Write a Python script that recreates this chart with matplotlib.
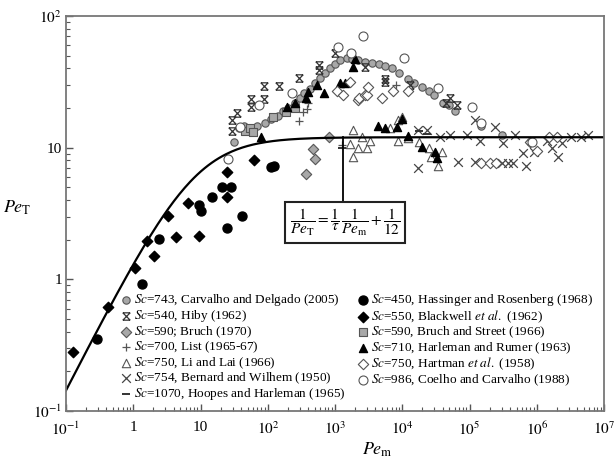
import numpy as np
import matplotlib
matplotlib.use("Agg")
import matplotlib.pyplot as plt
from matplotlib.path import Path
from matplotlib.ticker import FuncFormatter, LogLocator, NullFormatter

plt.rcParams['font.family'] = ['Liberation Serif', 'DejaVu Serif']
plt.rcParams['mathtext.fontset'] = 'stix'

# ---- data (Pe_m, Pe_T) ----
carvalho_x = [31, 38, 45, 55, 70, 90, 110, 140, 170, 200, 250, 300, 350, 420, 500, 600, 700, 850, 1000,
              1200, 1500, 1800, 2200, 2800, 3500, 4500, 5500, 7000, 9000, 12000, 15000, 20000, 25000,
              30000, 40000, 50000, 60000, 1.5e5, 3e5, 8e5]
carvalho_y = [11, 14, 14.5, 14, 14.5, 15.5, 16.5, 17.5, 19, 20, 22, 24, 26, 28, 31, 34, 37, 40, 43,
              46, 48, 47, 46, 45, 44, 43, 42, 40, 37, 33, 31, 29, 27, 25, 22, 21, 19, 14.5, 12.5, 11]

hiby_x = [29.7, 29.7, 35, 56, 56, 88, 88, 147, 290, 575, 575, 1000, 2800, 5500, 5500, 13000, 44000, 51000, 65000]
hiby_y = [16.1, 13.3, 18.4, 23.4, 20.4, 29.6, 23.4, 29.6, 33.6, 42.8, 38.7, 52.5, 41, 31.8, 33, 29.9, 22, 24, 21]

bruch_x = [370, 470, 500, 820]
bruch_y = [6.3, 9.8, 8.2, 12]

list_x = [290, 330, 380, 400, 1260, 8000]
list_y = [16, 18.5, 19.8, 22, 10.4, 30]

lilai_x = [1660, 1850, 1850, 2200, 2500, 3000, 3300, 6600, 8700, 8700, 10000, 12000, 18000, 25000, 27000, 34000, 39000]
lilai_y = [10.7, 13.7, 8.5, 9.9, 12.1, 10, 11.3, 14.2, 16.3, 11.3, 17, 11.8, 11, 9.9, 8.5, 7.2, 9.3]

bernard_x = [17000, 17000, 23000, 36000, 51000, 68000, 93000, 1.2e5, 1.2e5, 1.45e5, 2.4e5, 3e5, 3.2e5, 3.8e5,
             4.5e5, 4.8e5, 6.3e5, 6.9e5, 9e5, 1.4e6, 1.7e6, 2.1e6, 2.4e6, 3.2e6, 4.6e6, 5.7e6]
bernard_y = [7.0, 13.7, 13.6, 12, 12.5, 7.8, 12.5, 16.3, 7.8, 11.3, 14.4, 7.7, 10.8, 7.7,
             7.7, 12.5, 9.1, 7.2, 9.3, 11.3, 10, 8.5, 10.8, 12, 12.1, 12.5]

hoopes_x = [1250, 18000, 23000]
hoopes_y = [10, 13.4, 12.6]

hassinger_x = [0.29, 1.35, 2.42, 9.5, 10.2, 14.8, 21, 28, 24.5, 42, 110, 125]
hassinger_y = [0.35, 0.92, 2.03, 3.7, 3.3, 4.24, 5.05, 5.0, 2.45, 3.04, 7.1, 7.3]

blackwell_x = [0.127, 0.42, 1.06, 1.6, 2.04, 3.29, 4.33, 6.5, 9.5, 24.5, 24.5, 63]
blackwell_y = [0.28, 0.62, 1.22, 1.96, 1.51, 3.04, 2.1, 3.8, 2.15, 6.5, 4.2, 8.0]

bstreet_x = [46, 55, 60, 120, 190, 250]
bstreet_y = [13.3, 14, 13.2, 17, 18.7, 20]

harleman_x = [80, 195, 250, 370, 400, 540, 690, 1180, 1400, 1860, 2000, 4400, 5500, 8300, 10000, 12000, 20000, 31000, 33000]
harleman_y = [12, 20.5, 22, 24, 26.5, 30, 26, 31, 31, 41, 47, 14.5, 14.2, 14.4, 16.6, 12.3, 10.2, 9.3, 8.4]

hartman_x = [1070, 1320, 1660, 2200, 2300, 2800, 3000, 3100, 5000, 7300, 12000, 1.5e5, 2e5, 2.5e5, 8e5, 1e6, 1.5e6, 2e6]
hartman_y = [27, 25, 31.7, 23, 24, 25, 25.3, 29, 24, 27, 27, 7.6, 7.6, 7.7, 11, 9.5, 12, 12]

coelho_x = [26, 39, 73, 230, 1120, 1730, 2600, 10700, 34000, 1.1e5, 1.5e5, 8.5e5]
coelho_y = [8.2, 14.4, 21.2, 26, 58.6, 52.7, 70, 48, 28.6, 20.4, 15.5, 11]

tau = 1.45
curve_x = np.logspace(-1, 7, 300)
curve_y = 1.0 / (1.0 / (tau * curve_x) + 1.0 / 12)

# Hiby symbol: cross with bars top and bottom
hiby_marker = Path([(-1, -1), (1, 1), (-1, 1), (1, -1), (-1, 1), (1, 1), (-1, -1), (1, -1)],
                   [Path.MOVETO, Path.LINETO] * 4)

gray = '#a8a8a8'
edge = '#555555'

fig = plt.figure(figsize=(6.15, 4.58), dpi=100)
ax = fig.add_axes([66 / 615, 47 / 458, 538 / 615, 395 / 458])

ax.plot(curve_x, curve_y, color='black', lw=1.6, zorder=2)

ms = 28
h = []
h.append(ax.scatter(carvalho_x, carvalho_y, s=ms, marker='o', facecolor=gray, edgecolor=edge, lw=0.8,
                    label=r'$Sc$=743, Carvalho and Delgado (2005)'))
h.append(ax.scatter(hiby_x, hiby_y, s=ms, marker=hiby_marker, color='#333333', lw=0.9,
                    label=r'$Sc$=540, Hiby (1962)'))
h.append(ax.scatter(bruch_x, bruch_y, s=ms, marker='D', facecolor=gray, edgecolor=edge, lw=0.8,
                    label=r'$Sc$=590; Bruch (1970)'))
h.append(ax.scatter(list_x, list_y, s=ms * 1.4, marker='+', color='#555555', lw=0.9,
                    label=r'$Sc$=700, List (1965-67)'))
h.append(ax.scatter(lilai_x, lilai_y, s=ms * 1.3, marker='^', facecolor='white', edgecolor='#555555', lw=0.8,
                    label=r'$Sc$=750, Li and Lai (1966)'))
h.append(ax.scatter(bernard_x, bernard_y, s=ms * 1.4, marker='x', color='#444444', lw=0.9,
                    label=r'$Sc$=754, Bernard and Wilhem (1950)'))
h.append(ax.scatter(hoopes_x, hoopes_y, s=ms * 1.4, marker='_', color='#333333', lw=1.4,
                    label=r'$Sc$=1070, Hoopes and Harleman (1965)'))
h.append(ax.scatter(hassinger_x, hassinger_y, s=ms * 1.5, marker='o', color='black',
                    label=r'$Sc$=450, Hassinger and Rosenberg (1968)'))
h.append(ax.scatter(blackwell_x, blackwell_y, s=ms, marker='D', color='black',
                    label=r'$Sc$=550, Blackwell $et\ al.$ (1962)'))
h.append(ax.scatter(bstreet_x, bstreet_y, s=ms, marker='s', facecolor=gray, edgecolor=edge, lw=0.8,
                    label=r'$Sc$=590, Bruch and Street (1966)'))
h.append(ax.scatter(harleman_x, harleman_y, s=ms * 1.2, marker='^', color='black',
                    label=r'$Sc$=710, Harleman and Rumer (1963)'))
h.append(ax.scatter(hartman_x, hartman_y, s=ms, marker='D', facecolor='white', edgecolor='#555555', lw=0.8,
                    label=r'$Sc$=750, Hartman $et\ al.$ (1958)'))
h.append(ax.scatter(coelho_x, coelho_y, s=ms * 1.5, marker='o', facecolor='white', edgecolor='#555555', lw=0.8,
                    label=r'$Sc$=986, Coelho and Carvalho (1988)'))

# correlation box
ax.plot([1320, 1320], [12, 3.95], color='black', lw=1.3, zorder=2)
ax.text(1410, 2.71, r'$\dfrac{1}{Pe_\mathrm{T}}=\dfrac{1}{\tau}\,\dfrac{1}{Pe_\mathrm{m}}+\dfrac{1}{12}$',
        ha='center', va='center', fontsize=11,
        bbox=dict(boxstyle='square,pad=0.3', facecolor='white', edgecolor='#222222', lw=1.5))

ax.set_xscale('log')
ax.set_yscale('log')
ax.set_xlim(0.1, 1e7)
ax.set_ylim(0.1, 100)


def fmt(v, pos):
    if abs(v - 1) < 1e-9:
        return '1'
    if abs(v - 10) < 1e-9:
        return '10'
    return r'$10^{%d}$' % int(round(np.log10(v)))


ax.xaxis.set_major_locator(LogLocator(base=10, numticks=20))
ax.yaxis.set_major_locator(LogLocator(base=10, numticks=20))
ax.xaxis.set_minor_locator(LogLocator(base=10, subs=np.arange(2, 10), numticks=20))
ax.yaxis.set_minor_locator(LogLocator(base=10, subs=np.arange(2, 10), numticks=20))
ax.xaxis.set_major_formatter(FuncFormatter(fmt))
ax.yaxis.set_major_formatter(FuncFormatter(fmt))
ax.xaxis.set_minor_formatter(NullFormatter())
ax.yaxis.set_minor_formatter(NullFormatter())
ax.tick_params(which='both', direction='in', color='#555555', labelsize=11, top=False, right=False)
ax.tick_params(which='major', length=5, width=1)
ax.tick_params(which='minor', length=3, width=0.8)
ax.tick_params(axis='x', pad=7)
ax.tick_params(axis='y', pad=3)
for sp in ax.spines.values():
    sp.set_color('#777777')
    sp.set_linewidth(1.3)

ax.set_xlabel(r'$Pe_\mathrm{m}$', fontsize=13)
ax.xaxis.set_label_coords(0.578, -0.075)
ax.set_ylabel(r'$Pe_\mathrm{T}$', fontsize=13, rotation=0)
ax.yaxis.set_label_coords(-0.09, 0.49)

ax.legend(handles=h, ncol=2, loc='upper left', bbox_to_anchor=(0.105, 0.3), frameon=False,
          fontsize=9.5, handlelength=0.6, handletextpad=0.3, columnspacing=1.0, labelspacing=0.0,
          borderaxespad=0, borderpad=0)

fig.savefig('out.png', dpi=100)
